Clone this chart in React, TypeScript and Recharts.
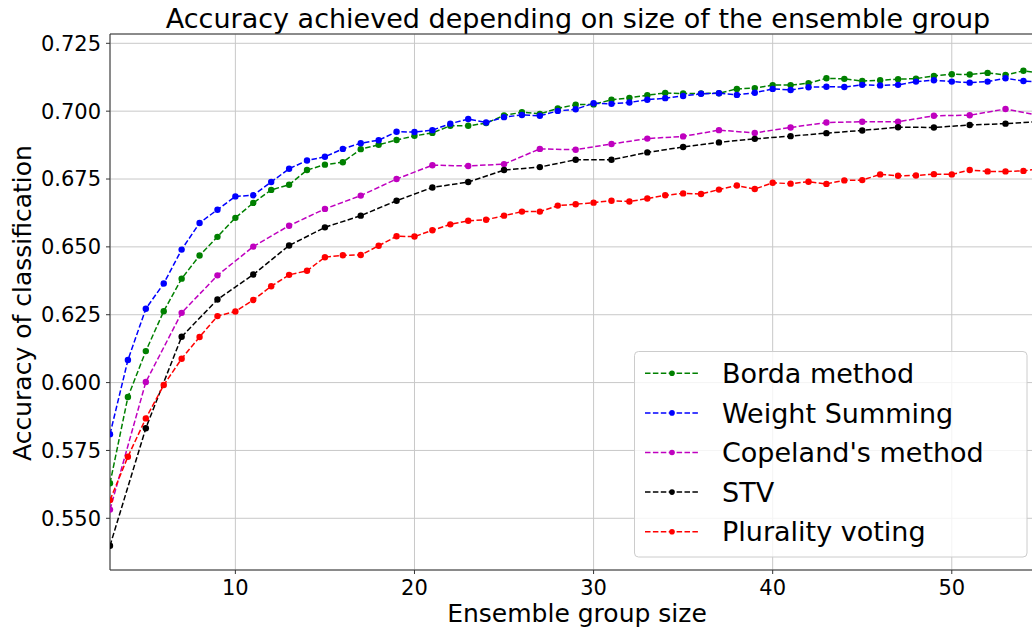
import {
	LineChart,
	Line,
	XAxis,
	YAxis,
	CartesianGrid,
	ReferenceLine,
	Customized,
} from "recharts";

// ensemble group sizes (x axis)
const groupSizes = [
	3, 4, 5, 6, 7, 8, 9, 10, 11, 12, 13, 14, 15, 16, 17, 18, 19, 20, 21, 22, 23, 24, 25, 26, 27,
	28, 29, 30, 31, 32, 33, 34, 35, 36, 37, 38, 39, 40, 41, 42, 43, 44, 45, 46, 47, 48, 49, 50,
	51, 52, 53, 54, 55,
];

const bordaAcc = [
	0.5629, 0.5947, 0.6116, 0.6263, 0.6383, 0.6468, 0.6537, 0.6607, 0.6662, 0.671, 0.6729,
	0.6783, 0.6803, 0.6812, 0.686, 0.6876, 0.6894, 0.6909, 0.692, 0.6946, 0.6946, 0.6956,
	0.6984, 0.6996, 0.699, 0.701, 0.7024, 0.7025, 0.7042, 0.7049, 0.7059, 0.7067, 0.7065,
	0.7065, 0.7066, 0.7082, 0.7085, 0.7096, 0.7096, 0.7103, 0.7121, 0.7119, 0.7111, 0.7114,
	0.7118, 0.712, 0.713, 0.7136, 0.7135, 0.7141, 0.7133, 0.7149, 0.714,
];

const weightAcc = [
	0.581, 0.6083, 0.6272, 0.6365, 0.649, 0.6588, 0.6637, 0.6686, 0.669, 0.6739, 0.6788,
	0.6818, 0.6832, 0.6861, 0.6882, 0.6893, 0.6924, 0.6923, 0.693, 0.6954, 0.6971, 0.6958,
	0.6978, 0.6986, 0.6983, 0.7001, 0.7007, 0.7029, 0.7027, 0.7032, 0.7042, 0.7048, 0.7056,
	0.7064, 0.7066, 0.706, 0.7068, 0.7082, 0.7078, 0.7088, 0.709, 0.7089, 0.7097, 0.7095,
	0.7097, 0.7109, 0.7114, 0.7109, 0.7105, 0.7109, 0.7121, 0.7111, 0.7108,
];

// Copeland and STV were only measured for odd group sizes
const copelandAcc = [
	0.5532, null, 0.6002, null, 0.6257, null, 0.6395, null, 0.6501, null, 0.6578, null, 0.664,
	null, 0.6689, null, 0.675, null, 0.6801, null, 0.6798, null, 0.6805, null, 0.6861, null,
	0.6858, null, 0.6879, null, 0.6899, null, 0.6907, null, 0.693, null, 0.692, null, 0.694,
	null, 0.6958, null, 0.6961, null, 0.6961, null, 0.6983, null, 0.6985, null, 0.7008, null,
	0.6983,
];

const stvAcc = [
	0.5399, null, 0.5832, null, 0.6169, null, 0.6306, null, 0.6398, null, 0.6505, null, 0.6572,
	null, 0.6615, null, 0.667, null, 0.6719, null, 0.6739, null, 0.6783, null, 0.6794, null,
	0.6821, null, 0.6821, null, 0.6848, null, 0.6868, null, 0.6885, null, 0.6898, null, 0.6908,
	null, 0.6919, null, 0.6929, null, 0.6941, null, 0.694, null, 0.6949, null, 0.6954, null,
	0.6962,
];

const pluralityAcc = [
	0.5567, 0.5727, 0.5868, 0.5991, 0.6088, 0.6168, 0.6245, 0.6262, 0.6304, 0.6355, 0.6397,
	0.6412, 0.6462, 0.6469, 0.647, 0.6504, 0.6539, 0.6538, 0.6561, 0.6583, 0.6596, 0.66,
	0.6615, 0.663, 0.663, 0.6652, 0.6657, 0.6663, 0.667, 0.6667, 0.6678, 0.669, 0.6697,
	0.6695, 0.6711, 0.6726, 0.6713, 0.6736, 0.6733, 0.674, 0.6732, 0.6745, 0.6746, 0.6767,
	0.6762, 0.6763, 0.6768, 0.6767, 0.6783, 0.6778, 0.6778, 0.678, 0.6788,
];

const xTicks = [10, 20, 30, 40, 50];
const yTicks = [0.55, 0.575, 0.6, 0.625, 0.65, 0.675, 0.7, 0.725];
const Y_MIN = 0.53095;
const Y_MAX = 0.72843;

const series = [
	{ key: "borda", name: "Borda method", color: "#008000", values: bordaAcc },
	{ key: "weight", name: "Weight Summing", color: "#0000ff", values: weightAcc },
	{ key: "copeland", name: "Copeland's method", color: "#bf00bf", values: copelandAcc },
	{ key: "stv", name: "STV", color: "#000000", values: stvAcc },
	{ key: "plurality", name: "Plurality voting", color: "#ff0000", values: pluralityAcc },
];

const data = groupSizes.map((size, i) => {
	const row: Record<string, number | null> = { size };
	series.forEach((s) => {
		row[s.key] = s.values[i];
	});
	return row;
});

const FONT = "DejaVu Sans, sans-serif";
const DASH = "5.5 2.4";

// title, axis labels and legend box
function Decorations() {
	return (
		<g fontFamily={FONT} fill="#000">
			<text x={578} y={28} fontSize={27} textAnchor="middle">
				Accuracy achieved depending on size of the ensemble group
			</text>
			<text x={577} y={622} fontSize={25} textAnchor="middle">
				Ensemble group size
			</text>
			<text
				x={31}
				y={303}
				fontSize={25}
				textAnchor="middle"
				transform="rotate(-90 31 303)"
			>
				Accuracy of classification
			</text>
			<rect
				x={634.5}
				y={351.5}
				width={392.5}
				height={205.5}
				rx={4}
				fill="#fff"
				fillOpacity={0.8}
				stroke="#cccccc"
			/>
			{series.map((s, i) => {
				const y = 373.3 + i * 39.6;
				return (
					<g key={s.key}>
						<line
							x1={645}
							x2={700}
							y1={y}
							y2={y}
							stroke={s.color}
							strokeWidth={1.5}
							strokeDasharray={DASH}
						/>
						<circle cx={672} cy={y} r={2.8} fill={s.color} />
						<text x={722} y={y + 9.6} fontSize={27}>
							{s.name}
						</text>
					</g>
				);
			})}
		</g>
	);
}

export default function App() {
	return (
		<div
			style={{
				position: "absolute",
				left: 0,
				top: 0,
				width: 1032,
				height: 630,
				overflow: "hidden",
				background: "#fff",
			}}
		>
			<LineChart
				width={1050}
				height={630}
				data={data}
				margin={{ top: 34, right: 4, left: 0, bottom: 0 }}
			>
				<CartesianGrid stroke="#c8c8c8" strokeWidth={1} />
				<XAxis
					dataKey="size"
					type="number"
					domain={[3, 55.26]}
					allowDataOverflow
					ticks={xTicks}
					height={60}
					tickSize={4}
					tickMargin={6}
					stroke="#333"
					tick={{ fontSize: 21, fontFamily: FONT, fill: "#000" }}
				/>
				<YAxis
					type="number"
					domain={[Y_MIN, Y_MAX]}
					allowDataOverflow
					ticks={yTicks}
					width={110}
					tickSize={4}
					tickMargin={5}
					stroke="#333"
					tickFormatter={(v: number) => v.toFixed(3)}
					tick={{ fontSize: 21, fontFamily: FONT, fill: "#000" }}
				/>
				<ReferenceLine y={Y_MAX} stroke="#333" />
				{series.map((s) => (
					<Line
						key={s.key}
						dataKey={s.key}
						name={s.name}
						type="linear"
						stroke={s.color}
						strokeWidth={1.5}
						strokeDasharray={DASH}
						connectNulls
						dot={{ r: 3.2, fill: s.color, stroke: "none" }}
						activeDot={false}
						isAnimationActive={false}
					/>
				))}
				<Customized component={Decorations} />
			</LineChart>
		</div>
	);
}
